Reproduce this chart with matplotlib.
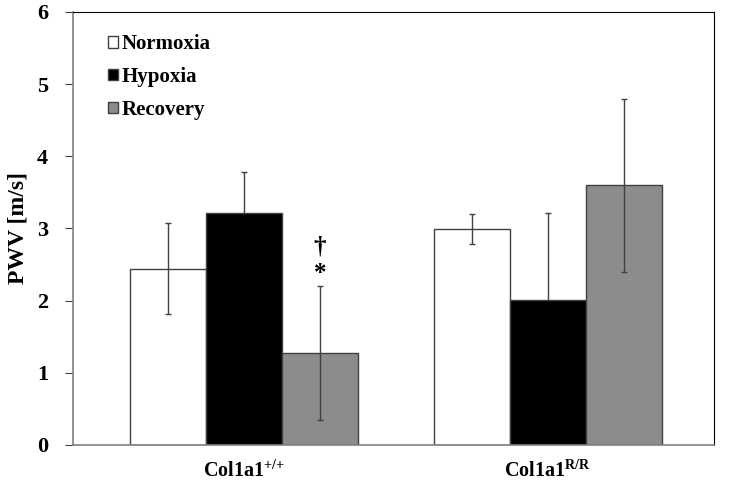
import numpy as np
import matplotlib
matplotlib.use("Agg")
import matplotlib.pyplot as plt

plt.rcParams['font.family'] = ['Liberation Serif', 'DejaVu Serif']
plt.rcParams['font.weight'] = 'bold'
plt.rcParams['axes.labelweight'] = 'bold'
plt.rcParams['mathtext.fontset'] = 'custom'
plt.rcParams['mathtext.rm'] = 'Liberation Serif:bold'
plt.rcParams['mathtext.default'] = 'rm'

# data
groups = ['Col1a1$^{{+}/{+}}$', 'Col1a1$^{R/R}$']
conditions = ['Normoxia', 'Hypoxia', 'Recovery']
normoxia = [2.44, 2.99]
normoxia_err = [0.63, 0.21]
hypoxia = [3.21, 2.01]
hypoxia_err = [0.57, 1.20]
recovery = [1.27, 3.60]
recovery_err = [0.93, 1.20]

colors = ['white', 'black', '#8c8c8c']

fig = plt.figure(figsize=(7.29, 4.91), dpi=100)
ax = fig.add_axes([0.1001, 0.0937, 0.879, 0.8819])

x = np.arange(len(groups))
width = 0.25
series = [(normoxia, normoxia_err), (hypoxia, hypoxia_err), (recovery, recovery_err)]
for i, (vals, errs) in enumerate(series):
    pos = x + (i - 1) * width
    ax.bar(pos, vals, width, color=colors[i], edgecolor='#404040', linewidth=1.0,
           label=conditions[i], zorder=2)
    ax.errorbar(pos, vals, yerr=errs, fmt='none', ecolor='#404040', elinewidth=1.0,
                capsize=2.5, capthick=1.0, zorder=1 if i == 1 else 3)

# significance marks over recovery of first group
ax.text(x[0] + width, 2.75, '\u2020', ha='center', va='center', fontsize=18)
ax.text(x[0] + width, 2.38, '*', ha='center', va='center', fontsize=18)

ax.set_xlim(-0.5625, 1.546)
ax.set_ylim(0, 6)
ax.set_yticks(range(0, 7))
ax.set_xticks(x)
ax.set_xticklabels(groups, fontsize=14.5)
ax.tick_params(axis='x', length=0, pad=11)
ax.tick_params(axis='y', labelsize=16, length=6, direction='out', color='#404040', pad=12)
# y label placed directly in figure coords
fig.text(18 / 729, 0.535, 'PWV [m/s]', rotation=90, ha='center', va='center',
         fontsize=17, fontweight='bold')

for s in ['top', 'right']:
    ax.spines[s].set_color('black')
    ax.spines[s].set_linewidth(0.8)
for s in ['left', 'bottom']:
    ax.spines[s].set_color('#808080')
    ax.spines[s].set_linewidth(1.2)

ax.legend(loc='upper left', bbox_to_anchor=(0.035, 0.978), frameon=False,
          fontsize=15, handlelength=0.5, handleheight=0.5, handletextpad=0.15,
          labelspacing=0.62, borderaxespad=0.2)

fig.savefig('out.png', dpi=100)
